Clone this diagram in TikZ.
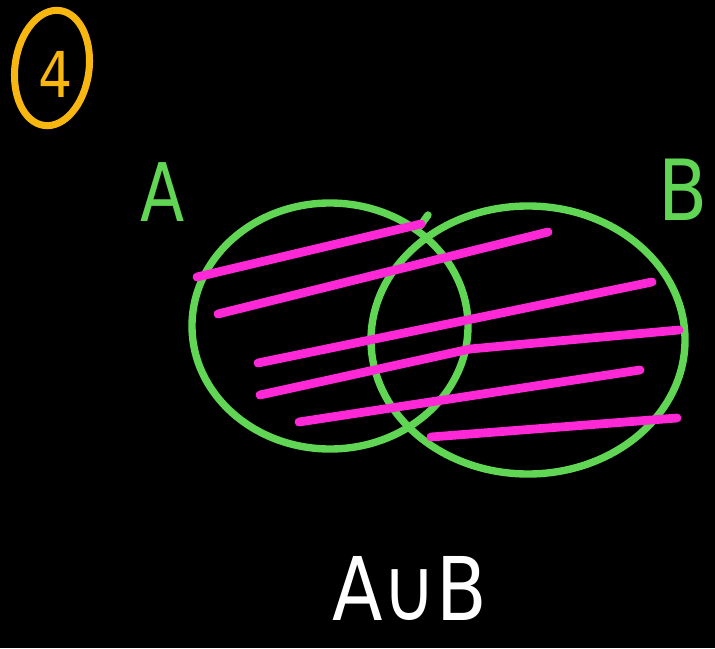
\documentclass[tikz,border=0pt]{standalone}
\usepackage{fontspec}
\newfontfamily\hand{DejaVu Sans}
\definecolor{vgreen}{RGB}{96,214,84}
\definecolor{vpink}{RGB}{255,40,214}
\definecolor{vyellow}{RGB}{248,182,16}
\begin{document}
\begin{tikzpicture}[x=0.02cm,y=-0.02cm,
  greenline/.style={draw=vgreen, line width=4.2pt, line cap=round},
  pinkline/.style={draw=vpink, line width=5pt, line cap=round, line join=round},
  yellowline/.style={draw=vyellow, line width=4pt, line cap=round}]
\fill[black] (0,0) rectangle (715,648);
\useasboundingbox (0,0) rectangle (715,648);
% circles
\draw[greenline] (330,326) ellipse [x radius=138, y radius=123];
\draw[greenline] (528,340) ellipse [x radius=157, y radius=134];
\draw[greenline] (420,226) -- (428,215);
% hatching
\coordinate (p1a) at (197,277); \coordinate (p1b) at (421,224);
\coordinate (p2a) at (218,314); \coordinate (p2b) at (548,232);
\coordinate (p3a) at (258,363); \coordinate (p3b) at (652,282);
\coordinate (p4a) at (260,395); \coordinate (p4m) at (470,349); \coordinate (p4b) at (679,330);
\coordinate (p5a) at (299,422); \coordinate (p5b) at (640,370);
\coordinate (p6a) at (431,437); \coordinate (p6b) at (677,418);
\draw[pinkline] (p1a) -- (p1b);
\draw[pinkline] (p2a) -- (p2b);
\draw[pinkline] (p3a) -- (p3b);
\draw[pinkline] (p4a) -- (p4m) -- (p4b);
\draw[pinkline] (p5a) -- (p5b);
\draw[pinkline] (p6a) -- (p6b);
% labels
\node[text=vgreen, font=\hand\fontsize{46}{48}\selectfont, xscale=0.8] (labA) at (163,192) {A};
\node[text=vgreen, font=\hand\fontsize{48}{50}\selectfont, xscale=0.85, inner sep=0pt] (labB) at (683,190) {B};
\node[text=white, font=\hand\fontsize{50}{52}\selectfont, xscale=0.84] (union) at (410,588) {A∪B};
% question number
\draw[yellowline, rotate around={-8:(52,68)}] (52,68) ellipse [x radius=37, y radius=58];
\node[text=vyellow, font=\hand\fontsize{36}{38}\selectfont, xscale=0.85] (qnum) at (56,74) {4};
\end{tikzpicture}
\end{document}
